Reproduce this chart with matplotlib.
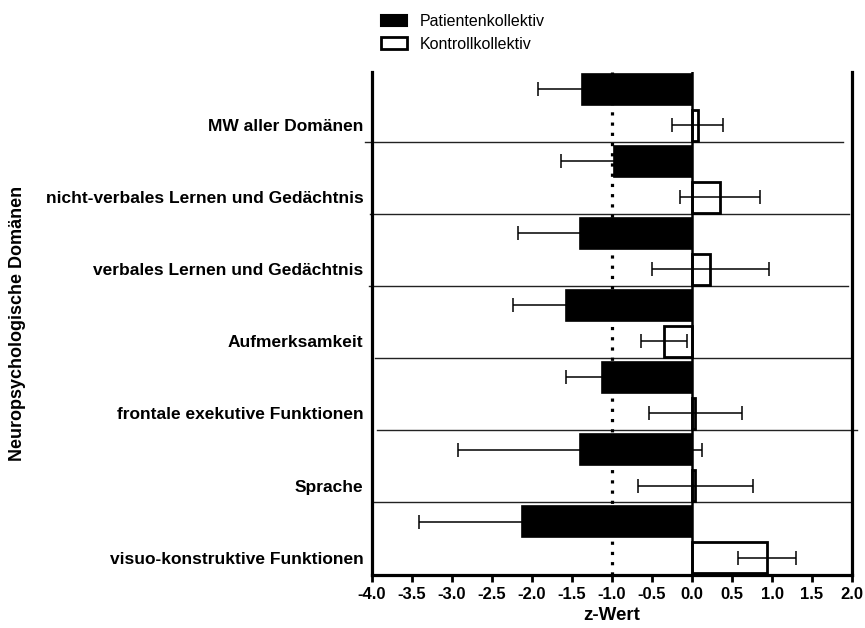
import numpy as np
import matplotlib
matplotlib.use("Agg")
import matplotlib.pyplot as plt
from matplotlib.patches import Patch

plt.rcParams['font.family'] = ['Liberation Sans', 'DejaVu Sans']

# Domänen von oben nach unten
domains = ["MW aller Domänen",
           "nicht-verbales Lernen und Gedächtnis",
           "verbales Lernen und Gedächtnis",
           "Aufmerksamkeit",
           "frontale exekutive Funktionen",
           "Sprache",
           "visuo-konstruktive Funktionen"]

# z-Werte (Mittelwert) und Standardabweichung
pat_mean = [-1.38, -0.98, -1.40, -1.57, -1.13, -1.40, -2.12]
pat_sd = [0.54, 0.66, 0.78, 0.67, 0.44, 1.52, 1.29]
ctl_mean = [0.07, 0.35, 0.23, -0.35, 0.04, 0.04, 0.94]
ctl_sd = [0.32, 0.50, 0.73, 0.29, 0.58, 0.72, 0.36]

xticks = np.arange(-4.0, 2.01, 0.5)

fig = plt.figure(figsize=(8.65, 6.28), dpi=100)
ax = fig.add_axes([0.430, 0.0845, 0.555, 0.8005])

y = np.arange(len(domains))
h = 0.43
off = 0.5

ax.barh(y - off, pat_mean, height=h, color='black', edgecolor='black',
        linewidth=1.2, zorder=3)
ax.barh(y, ctl_mean, height=h, color='white', edgecolor='black',
        linewidth=2, zorder=3)
ax.errorbar(pat_mean, y - off, xerr=pat_sd, fmt='none', ecolor='black',
            elinewidth=1.1, capsize=4.7, capthick=1.1, zorder=4)
ax.errorbar(ctl_mean, y, xerr=ctl_sd, fmt='none', ecolor='black',
            elinewidth=1.1, capsize=4.7, capthick=1.1, zorder=4)

# Trennlinien zwischen den Domänen (etwas unregelmäßig wie im Original)
sep_x0 = [-4.09, -4.03, -4.04, -3.96, -3.94, -4.0]
sep_x1 = [1.89, 1.96, 1.95, 2.0, 2.06, 2.0]
for i in range(len(domains) - 1):
    ax.plot([sep_x0[i], sep_x1[i]], [i + 0.23, i + 0.23], color='#222222',
            lw=1, zorder=2, clip_on=False)

ax.axvline(0, color='black', lw=1.8, zorder=5)
ax.axvline(-1, color='black', lw=2.3, linestyle=(0, (1, 2.2)), zorder=6)

ax.set_xlim(-4, 2)
ax.set_ylim(6.24, -0.735)
ax.set_xticks(xticks)
ax.set_xticklabels([f"{v:.1f}" for v in xticks], fontweight='bold', fontsize=12)
ax.set_yticks(y)
ax.set_yticklabels(domains, fontweight='bold', fontsize=12.5)
ax.tick_params(axis='y', length=0, pad=6)
ax.tick_params(axis='x', length=5, width=2, pad=4)

for s in ['left', 'right', 'bottom']:
    ax.spines[s].set_linewidth(2.3)
ax.spines['top'].set_visible(False)

ax.set_xlabel("z-Wert", fontweight='bold', fontsize=13.5, labelpad=3)
ax.set_ylabel("Neuropsychologische Domänen", fontweight='bold', fontsize=13)
ax.yaxis.set_label_coords(-0.72, 0.5)

handles = [Patch(facecolor='black', edgecolor='black', linewidth=1.5),
           Patch(facecolor='white', edgecolor='black', linewidth=2)]
fig.legend(handles, ["Patientenkollektiv", "Kontrollkollektiv"],
           loc='upper left', bbox_to_anchor=(0.424, 1.0), frameon=False,
           fontsize=11.5, handlelength=1.6, handletextpad=0.8, labelspacing=0.45)

fig.savefig("out.png", dpi=100)
